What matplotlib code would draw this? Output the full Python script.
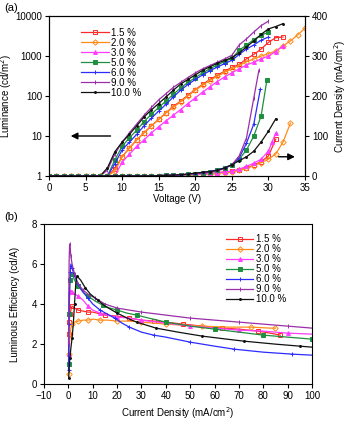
import matplotlib.pyplot as plt
import numpy as np

# Series definitions
labels = ['1.5 %', '2.0 %', '3.0 %', '5.0 %', '6.0 %', '9.0 %', '10.0 %']
colors = ['#ff2a2a', '#ff8c1a', '#ff3cff', '#1f8f3f', '#2b2bff', '#9a2fa8', '#111111']
markers = ['s', 'D', '^', 's', '+', '|', '.']
fills = ['none', 'none', 'full', 'full', 'full', 'full', 'full']

# (a) luminance vs voltage (V = 0, 1, 2, ...)
lum_15 = [1]*9 + [1.5, 3, 5, 8, 12, 18, 26, 38, 55, 75, 105, 145, 195, 260, 330, 420, 520, 620, 850, 1100, 1500, 2200, 2900, 3000]
lum_20 = [1]*9 + [1.3, 3, 5, 8, 12, 18, 26, 38, 52, 72, 100, 140, 185, 245, 310, 390, 480, 580, 720, 850, 1000, 1150, 1350, 1800, 2400, 3400, 5000]
lum_30 = [1]*10 + [2.2, 3.5, 5.5, 8, 12, 17, 24, 33, 46, 65, 90, 125, 170, 230, 300, 380, 480, 600, 700, 850, 1000, 1300, 1800]
lum_50 = [1]*9 + [2.5, 5.5, 9, 14, 23, 35, 52, 75, 110, 160, 220, 290, 380, 480, 600, 730, 880, 1400, 1900, 2600, 3300, 4000]
lum_60 = [1]*9 + [2, 4.5, 7, 11, 18, 28, 42, 62, 95, 140, 195, 260, 340, 430, 530, 650, 780, 1100, 1500, 1900, 2500, 3000]
lum_90 = [1]*8 + [1.4, 3.5, 7, 12, 20, 33, 52, 80, 115, 165, 220, 290, 380, 480, 580, 700, 850, 1050, 1900, 2700, 4000, 5800, 7500]
lum_100 = [1]*8 + [1.6, 4, 7, 11, 18, 30, 45, 65, 95, 140, 200, 260, 340, 440, 540, 660, 780, 920, 1200, 1700, 2400, 3500, 4800, 5500, 6500]

# (a) current density vs voltage
cd_v_15 = list(range(0, 32))
cd_15 = [0]*15 + [0.5, 1, 1.5, 2, 3, 4, 5, 6, 8, 10, 12, 15, 20, 27, 36, 50, 92]
cd_v_20 = list(range(0, 34))
cd_20 = [0]*17 + [0.5, 1, 2, 3, 4, 5, 6, 8, 10, 14, 19, 26, 33, 42, 55, 85, 132]
cd_v_30 = list(range(0, 31)) + [30.5, 31]
cd_30 = [0]*15 + [0.5, 1, 1.5, 2, 3, 4, 5, 6, 8, 10, 12, 17, 24, 32, 42, 62, 85, 107]
cd_v_50 = list(range(0, 30)) + [29.8]
cd_50 = [0]*15 + [1, 1.5, 2, 3, 4, 6, 8, 11, 15, 20, 28, 42, 65, 100, 150, 241]
cd_v_60 = list(range(0, 29)) + [28.9]
cd_60 = [0]*15 + [1, 1.5, 2, 3, 4, 6, 8, 11, 15, 20, 28, 45, 82, 130, 218]
cd_v_90 = list(range(0, 29)) + [28.7]
cd_90 = [0]*15 + [1, 1.5, 2, 3, 4, 6, 8, 10, 13, 18, 28, 50, 95, 195, 265]
cd_v_100 = list(range(0, 32))
cd_100 = [0]*15 + [1, 1.5, 2, 3, 5, 7, 9, 11, 14, 20, 28, 38, 48, 62, 85, 112, 143]

# (b) efficiency vs current density
j_15 = [0.05, 0.1, 0.2, 0.4, 0.7, 1.0, 1.5, 2.5, 4, 6, 8, 10, 15, 20, 25, 30, 35, 40, 47, 55, 63, 70, 78, 85, 87]
e_15 = [2.5, 2.9, 3.1, 3.3, 3.5, 3.7, 3.9, 3.8, 3.7, 3.65, 3.6, 3.6, 3.45, 3.4, 3.3, 3.2, 3.15, 3.1, 3.0, 2.9, 2.8, 2.75, 2.65, 2.5, 2.45]
j_20 = [0.05, 0.1, 0.2, 0.4, 0.7, 1, 1.5, 2.5, 4, 6, 8, 10, 13, 16, 20, 25, 30, 35, 40, 47, 55, 65, 75, 83, 85]
e_20 = [0.5, 1.0, 1.5, 2.0, 2.5, 2.8, 3.0, 3.1, 3.15, 3.2, 3.2, 3.25, 3.2, 3.2, 3.15, 3.15, 3.1, 3.05, 3.0, 2.95, 2.9, 2.85, 2.85, 2.8, 2.8]
j_30 = [0.05, 0.1, 0.2, 0.4, 0.7, 1, 1.5, 2.5, 4, 6, 8, 10, 13, 16, 20, 25, 30, 40, 50, 60, 70, 80, 90, 100]
e_30 = [1.5, 2.5, 3.5, 4.2, 4.6, 4.7, 4.6, 4.5, 4.4, 4.2, 3.9, 3.7, 3.55, 3.45, 3.35, 3.3, 3.2, 3.05, 2.9, 2.8, 2.7, 2.65, 2.55, 2.5]
j_50 = [0.05, 0.1, 0.2, 0.4, 0.7, 1, 1.5, 2.5, 4, 6, 8, 11, 14, 17, 20, 24, 28, 33, 40, 50, 60, 70, 80, 90, 100]
e_50 = [1.0, 2.0, 3.5, 4.5, 5.2, 5.5, 5.5, 5.2, 4.9, 4.6, 4.4, 4.15, 3.95, 3.8, 3.7, 3.55, 3.45, 3.3, 3.1, 2.9, 2.75, 2.6, 2.45, 2.35, 2.25]
j_60 = [0.05, 0.1, 0.2, 0.4, 0.7, 1, 1.5, 2.5, 4, 6, 8, 10, 13, 16, 19, 22, 25, 30, 35, 40, 50, 60, 68, 80, 92, 100]
e_60 = [0.7, 1.5, 3.0, 4.5, 5.6, 6.0, 5.8, 5.4, 5.0, 4.6, 4.3, 4.0, 3.7, 3.5, 3.3, 3.05, 2.85, 2.6, 2.45, 2.35, 2.1, 1.9, 1.75, 1.6, 1.5, 1.45]
j_90 = [0.05, 0.1, 0.2, 0.3, 0.5, 0.7, 1, 1.5, 2.5, 4, 6, 8, 11, 15, 20, 25, 30, 40, 50, 60, 70, 80, 90, 100]
e_90 = [2.0, 3.5, 5.0, 6.2, 7.0, 6.8, 6.4, 6.0, 5.5, 5.0, 4.7, 4.5, 4.3, 4.0, 3.8, 3.7, 3.6, 3.45, 3.3, 3.2, 3.1, 3.0, 2.9, 2.8]
j_100 = [0.1, 0.3, 0.6, 1.0, 1.5, 2.0, 2.5, 3, 3.5, 5, 7, 9, 12, 15, 20, 25, 28, 32, 36, 45, 55, 65, 72, 85, 95, 100]
e_100 = [0.3, 0.8, 1.3, 1.8, 2.3, 3.0, 4.0, 5.0, 5.4, 5.2, 4.8, 4.5, 4.2, 3.9, 3.55, 3.25, 3.1, 2.95, 2.8, 2.6, 2.4, 2.25, 2.15, 2.0, 1.9, 1.85]

lum = [lum_15, lum_20, lum_30, lum_50, lum_60, lum_90, lum_100]
cd_v = [cd_v_15, cd_v_20, cd_v_30, cd_v_50, cd_v_60, cd_v_90, cd_v_100]
cd = [cd_15, cd_20, cd_30, cd_50, cd_60, cd_90, cd_100]
jj = [j_15, j_20, j_30, j_50, j_60, j_90, j_100]
ee = [e_15, e_20, e_30, e_50, e_60, e_90, e_100]

plt.rc('font', family='Liberation Sans', size=7)
fig = plt.figure(figsize=(3.47, 4.25), dpi=100)

# ---- panel (a)
ax = fig.add_axes([0.141, 0.586, 0.738, 0.376])
ax2 = ax.twinx()
for i in range(7):
    kw = dict(color=colors[i], marker=markers[i], markersize=2.8, linewidth=0.9,
              fillstyle=fills[i], markeredgewidth=0.7)
    ax.plot(range(len(lum[i])), lum[i], label=labels[i], **kw)
    ax2.plot(cd_v[i], cd[i], **kw)
ax.set_yscale('log')
ax.set_ylim(1, 10000)
ax.set_xlim(0, 35)
ax.set_xticks(range(0, 36, 5))
ax.set_yticks([1, 10, 100, 1000, 10000])
ax.set_yticklabels(['1', '10', '100', '1000', '10000'])
ax.minorticks_off()
ax2.set_ylim(0, 400)
ax2.set_yticks(range(0, 401, 100))
ax.set_xlabel('Voltage (V)', labelpad=1)
ax.set_ylabel('Luminance (cd/m$^2$)')
ax.yaxis.set_label_coords(-0.135, 0.5)
ax2.set_ylabel('Current Density (mA/cm$^2$)')
ax2.yaxis.set_label_coords(1.105, 0.5)
ax.annotate('', xy=(2.6, 10), xytext=(8.8, 10),
            arrowprops=dict(arrowstyle='-|>', color='black', lw=1, mutation_scale=10))
ax2.annotate('', xy=(34.0, 48), xytext=(31.0, 48),
             arrowprops=dict(arrowstyle='-|>', color='black', lw=1, mutation_scale=10))
ax.legend(loc='upper left', bbox_to_anchor=(0.1, 0.97), frameon=False, fontsize=7,
          handlelength=2.8, labelspacing=0.0, borderpad=0.2, handletextpad=0.3)
for a in (ax, ax2):
    a.tick_params(length=3, width=0.8, pad=2)
fig.text(0.012, 0.975, '(a)', fontsize=8)

# ---- panel (b)
bx = fig.add_axes([0.127, 0.096, 0.772, 0.377])
for i in range(7):
    bx.plot(jj[i], ee[i], color=colors[i], marker=markers[i], markersize=2.8, linewidth=0.9,
            fillstyle=fills[i], markeredgewidth=0.7, markevery=2, label=labels[i])
bx.set_xlim(-10, 100)
bx.set_ylim(0, 8)
bx.set_xticks(range(-10, 101, 10))
bx.set_yticks(range(0, 9, 2))
bx.set_xlabel('Current Density (mA/cm$^2$)', labelpad=3)
bx.set_ylabel('Luminous Efficiency (cd/A)')
bx.yaxis.set_label_coords(-0.088, 0.5)
bx.tick_params(length=3, width=0.8, pad=2)
bx.legend(loc='upper right', bbox_to_anchor=(0.93, 0.98), frameon=False, fontsize=7,
          handlelength=2.8, labelspacing=0.0, borderpad=0.2, handletextpad=0.3)
fig.text(0.012, 0.483, '(b)', fontsize=8)

plt.savefig('out.png', dpi=100)
plt.close()
